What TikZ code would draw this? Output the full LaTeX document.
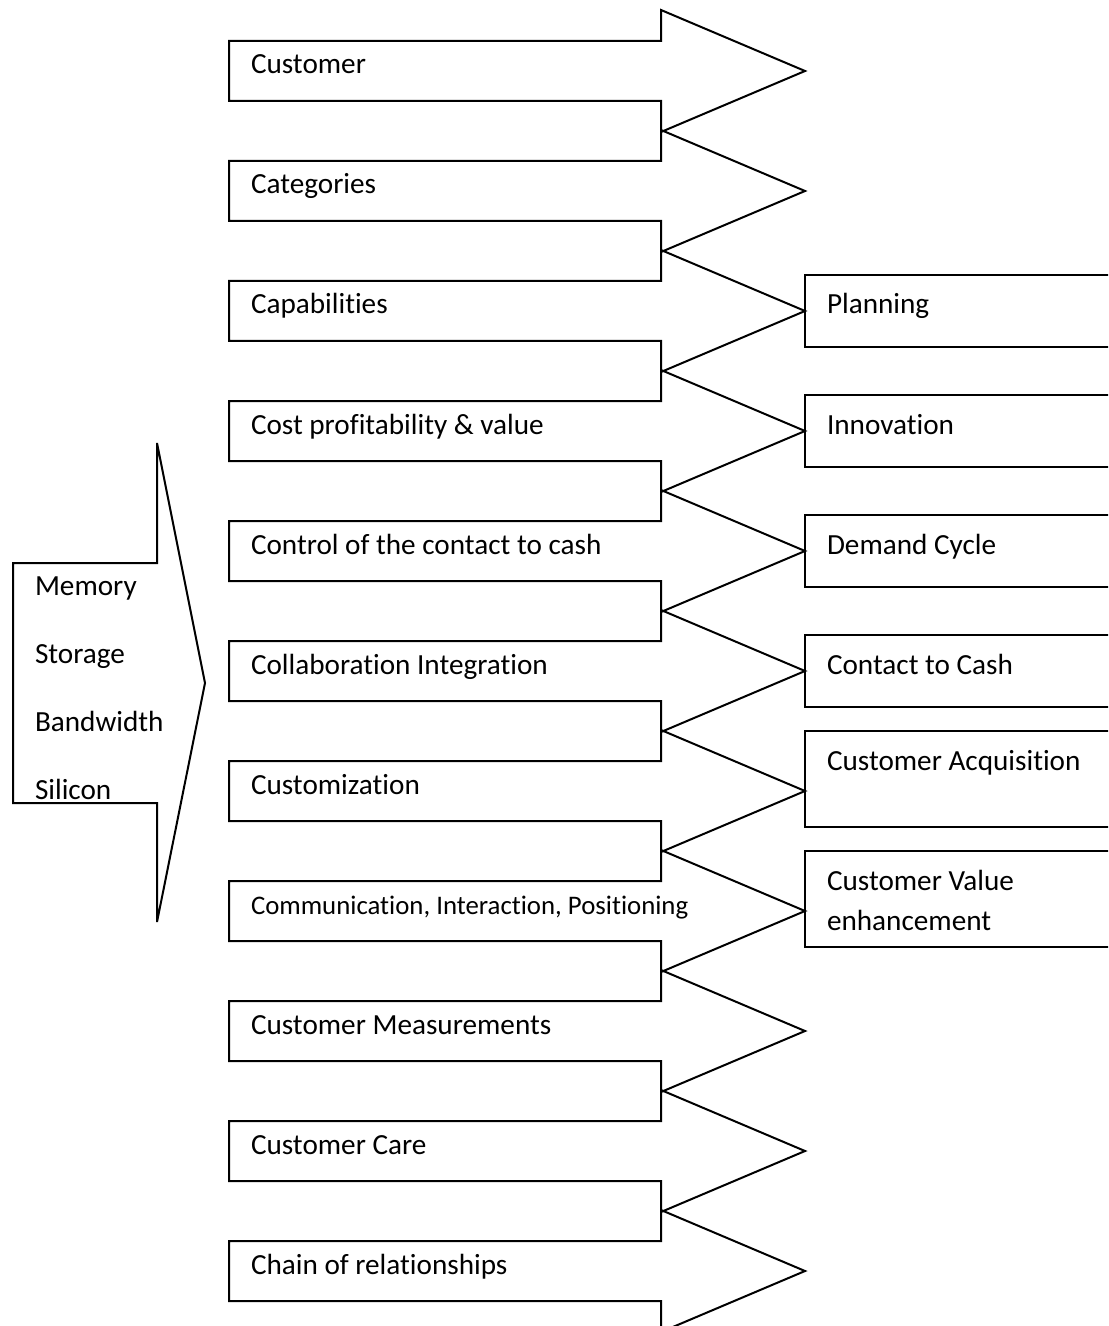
\documentclass[tikz,border=0pt]{standalone}
\usepackage{fontspec}
\setmainfont{Carlito}[Ligatures=NoCommon]

\begin{document}
\begin{tikzpicture}[x=0.5pt,y=-0.5pt,line width=1pt,line join=miter]
  \tikzset{lbl/.style={anchor=base west,inner sep=0pt,align=left,
      font=\fontsize{14.6}{20}\selectfont},
    smalllbl/.style={lbl,font=\fontsize{13.4}{16}\selectfont}}
  \useasboundingbox (0,0) rectangle (1108,1326);
  \clip (0,0) rectangle (1108,1326);
  % column of arrows
  \foreach \txt/\sty [count=\i from 0] in {Customer/lbl, Categories/lbl,
      Capabilities/lbl, Cost profitability \& value/lbl,
      Control of the contact to cash/lbl, Collaboration Integration/lbl,
      Customization/lbl, {Communication, Interaction, Positioning}/smalllbl,
      Customer Measurements/lbl, Customer Care/lbl,
      Chain of relationships/lbl} {
    \pgfmathtruncatemacro\c{71+120*\i}
    \draw (229,\c-30) -- (661,\c-30) -- (661,\c-61) -- (805,\c)
      -- (661,\c+61) -- (661,\c+30) -- (229,\c+30) -- cycle;
    \node[\sty] (row\i) at (250,\c+3) {\txt};
  }
  % boxes on the right
  \foreach \txt/\top/\dy [count=\i from 2] in {Planning/36/3, Innovation/36/3,
      Demand Cycle/36/3, Contact to Cash/36/3, Customer Acquisition/60/-21,
      Customer Value\\enhancement/60/19} {
    \pgfmathtruncatemacro\c{71+120*\i}
    \draw (805,\c-\top) rectangle (1120,\c+36);
    \node[lbl] (stage\i) at (826,\c+\dy) {\txt};
  }
  % arrow on the left
  \draw (13,563) -- (157,563) -- (157,443) -- (205,683) -- (157,922)
    -- (157,803) -- (13,803) -- cycle;
  \foreach \txt [count=\i from 0] in {Memory, Storage, Bandwidth, Silicon}
    \node[lbl] (res\i) at (34,595+68*\i) {\txt};
\end{tikzpicture}
\end{document}
